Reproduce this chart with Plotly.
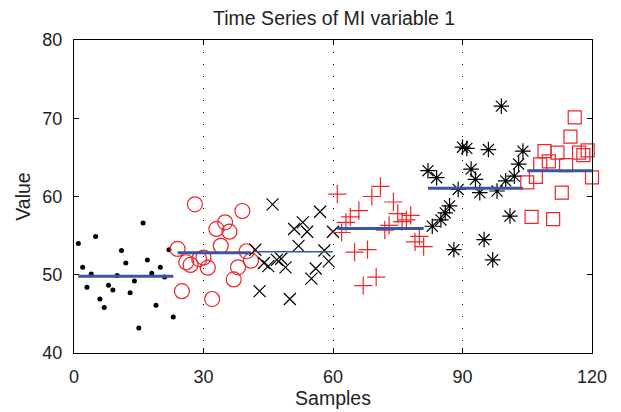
import plotly.graph_objects as go

# ---- data ----
dots_y = [54.0, 50.95, 48.4, 50.1, 54.9, 46.9, 45.8, 48.65, 48.05, 49.9, 53.1, 51.5,
          47.7, 49.2, 43.2, 56.6, 51.9, 50.2, 46.1, 50.95, 49.7, 53.2, 44.6]
circles_y = [53.3, 47.9, 51.6, 51.25, 59.0, 52.0, 52.2, 50.9, 46.9, 55.85, 53.7, 56.7,
             55.5, 49.4, 50.95, 58.15, 53.0, 51.8]
crosses_y = [53.2, 47.9, 51.5, 51.1, 59.0, 51.9, 52.05, 50.95, 46.9, 55.85, 53.7, 56.7,
             55.5, 49.5, 50.8, 58.05, 53.1, 51.7, 55.5]
plus_y = [60.3, 55.4, 56.7, 57.4, 52.9, 58.2, 48.6, 53.2, 60.0, 49.7, 61.3, 55.7,
          56.3, 59.3, 57.8, 56.8, 57.0, 57.6, 54.2, 54.9, 53.6]
aster_y = [63.3, 56.2, 62.4, 57.0, 57.9, 58.8, 53.2, 60.9, 66.3, 66.15, 63.5, 62.2,
           60.5, 54.5, 66.0, 51.9, 60.7, 71.55, 62.0, 57.5, 62.6, 64.15, 65.8]
squares_y = [61.8, 57.4, 62.5, 64.1, 65.8, 64.5, 57.1, 65.6, 60.5, 64.0, 67.65, 70.1,
             65.6, 65.3, 65.9, 62.45]
segment_means = [49.8, 52.8, 52.95, 55.9, 61.05, 63.3]

x_ticks = [0, 30, 60, 90, 120]
y_ticks = [40, 50, 60, 70, 80]

RED = "rgb(238,36,42)"
BLUE = "rgb(58,84,166)"

groups = [
    (dots_y, dict(symbol="circle", size=5, color="black", line=dict(width=0)), 3),
    (circles_y, dict(symbol="circle-open", size=15, color=RED, line=dict(width=1.2, color=RED)), 3),
    (crosses_y, dict(symbol="x-thin-open", size=12, color="black", line=dict(width=1.2, color="black")), 1.5),
    (plus_y, dict(symbol="cross-thin-open", size=13, color=RED, line=dict(width=1.2, color=RED)), 3),
    (aster_y, dict(symbol="asterisk-open", size=13, color="black", line=dict(width=1.2, color="black")), 3),
    (squares_y, dict(symbol="square-open", size=13, color=RED, line=dict(width=1.2, color=RED)), 3),
]

fig = go.Figure()
start = 1
for (ys, mk, lw), m in zip(groups, segment_means):
    xs = list(range(start, start + len(ys)))
    start += len(ys)
    fig.add_trace(go.Scatter(x=xs, y=ys, mode="markers", marker=mk,
                             showlegend=False, hoverinfo="skip", cliponaxis=False))
    fig.add_trace(go.Scatter(x=[xs[0], xs[-1]], y=[m, m], mode="lines",
                             line=dict(color=BLUE, width=lw),
                             showlegend=False, hoverinfo="skip"))

FONT = "Liberation Sans, Arial, sans-serif"
axis_common = dict(showline=True, linecolor="black", linewidth=1, mirror="ticks",
                   ticks="inside", ticklen=5, tickcolor="black", zeroline=False,
                   automargin=False,
                   tickfont=dict(family=FONT, size=18, color="#222"))

# page body has an 8px margin; figure occupies 8..621 x 8..412
fig.update_layout(
    width=613, height=404,
    margin=dict(l=66, r=29, t=32, b=59),
    paper_bgcolor="white", plot_bgcolor="white",
    title=dict(text="Time Series of MI variable 1", x=0.532, xanchor="center",
               y=0.975, yanchor="middle", automargin=False,
               font=dict(family=FONT, size=19.5, color="#222")),
    xaxis=dict(range=[0, 120], tickvals=x_ticks, showgrid=True, gridcolor="black",
               griddash="1px,11px", gridwidth=1,
               title=dict(text="Samples", font=dict(family=FONT, size=19.5, color="#222"), standoff=2),
               ticklabelstandoff=7, **axis_common),
    yaxis=dict(range=[40, 80], tickvals=y_ticks, showgrid=False,
               title=dict(text="Value", font=dict(family=FONT, size=19.5, color="#222"), standoff=6),
               ticklabelstandoff=7, **axis_common),
)

fig.write_html("out.html")
